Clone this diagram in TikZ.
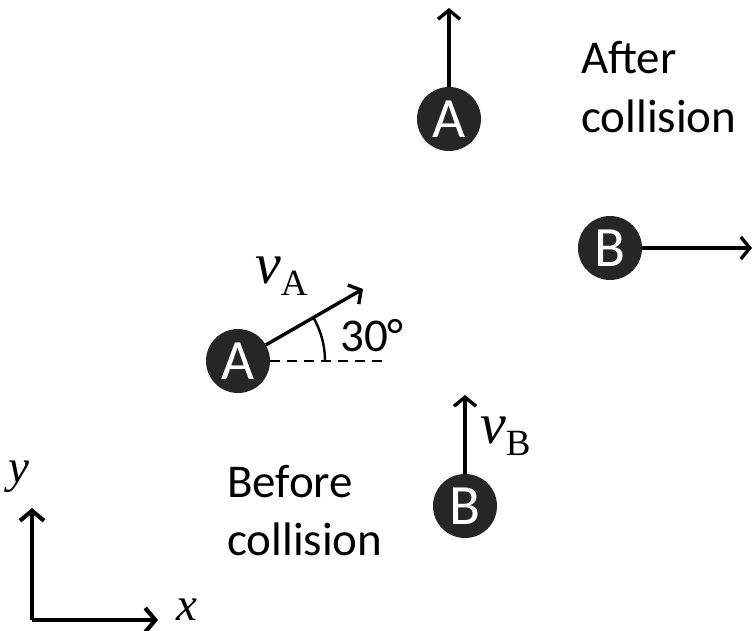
\documentclass[tikz,border=0pt]{standalone}
\usepackage{fontspec}
\setmainfont{Carlito}
\newfontfamily\serifmath{Liberation Serif}
\usetikzlibrary{arrows.meta}
\definecolor{balldark}{HTML}{262626}
\tikzset{
  x=1pt, y=-1pt,
  ball/.style={circle, fill=balldark, minimum size=64pt, inner sep=0pt, text=white,
    font=\fontsize{57}{57}\selectfont},
  vec/.style={line width=3.4pt, -{Straight Barb[length=9pt,width=22pt,line width=3.4pt]}},
  axis/.style={line width=4.2pt, -{Straight Barb[length=10pt,width=24pt,line width=4.2pt]}},
  lbl/.style={font=\fontsize{47}{58}\selectfont, align=left, inner sep=0pt},
  mathlbl/.style={inner sep=0pt, font=\serifmath\fontsize{58}{58}\selectfont},
}
\begin{document}
\begin{tikzpicture}
\useasboundingbox (0,0) rectangle (754,631);
% before collision
\node[ball] (A1) at (238,361) {A};
\node[ball] (B1) at (465,506) {B};
\coordinate (vAtip) at (363,289);
\coordinate (dashend) at (383,361);
\coordinate (vBtip) at (465,395);
\draw[vec] (A1.30) -- (vAtip);
\draw[line width=2.8pt, dash pattern=on 10pt off 7pt] (A1.east) -- (dashend);
\draw[line width=2.4pt] (325,361) arc[start angle=0, end angle=-30, radius=87];
\node[lbl, anchor=center] (ang) at (372,336) {30°};
\draw[vec] (B1.north) -- (vBtip);
\node[mathlbl, anchor=base west] (vA) at (255,283) {\itshape v\raisebox{-12pt}{\fontsize{37}{37}\selectfont\upshape A}};
\node[mathlbl, anchor=base west] (vB) at (480,443) {\itshape v\raisebox{-12pt}{\fontsize{37}{37}\selectfont\upshape B}};
\node[lbl, anchor=base west] (before) at (227,497) {Before};
\node[lbl, anchor=base west] (before2) at (227,555) {collision};
% after collision
\node[ball] (A2) at (449,119) {A};
\node[ball] (B2) at (610,248) {B};
\coordinate (A2tip) at (449,8);
\coordinate (B2tip) at (752,248);
\draw[vec] (A2.north) -- (A2tip);
\draw[vec] (B2.east) -- (B2tip);
\node[lbl, anchor=base west] (after) at (581,74) {After};
\node[lbl, anchor=base west] (after2) at (581,133) {collision};
% axes
\coordinate (O) at (32,620);
\coordinate (xtip) at (158,620);
\coordinate (ytip) at (32,508);
\draw[axis] (O) -- (xtip);
\draw[axis] (O) -- (ytip);
\node[mathlbl, font=\serifmath\fontsize{47}{47}\selectfont\itshape, anchor=base west, text depth=0pt] (xl) at (176,620) {x};
\node[mathlbl, font=\serifmath\fontsize{47}{47}\selectfont\itshape, anchor=base west] (yl) at (8,482) {y};
\end{tikzpicture}
\end{document}
